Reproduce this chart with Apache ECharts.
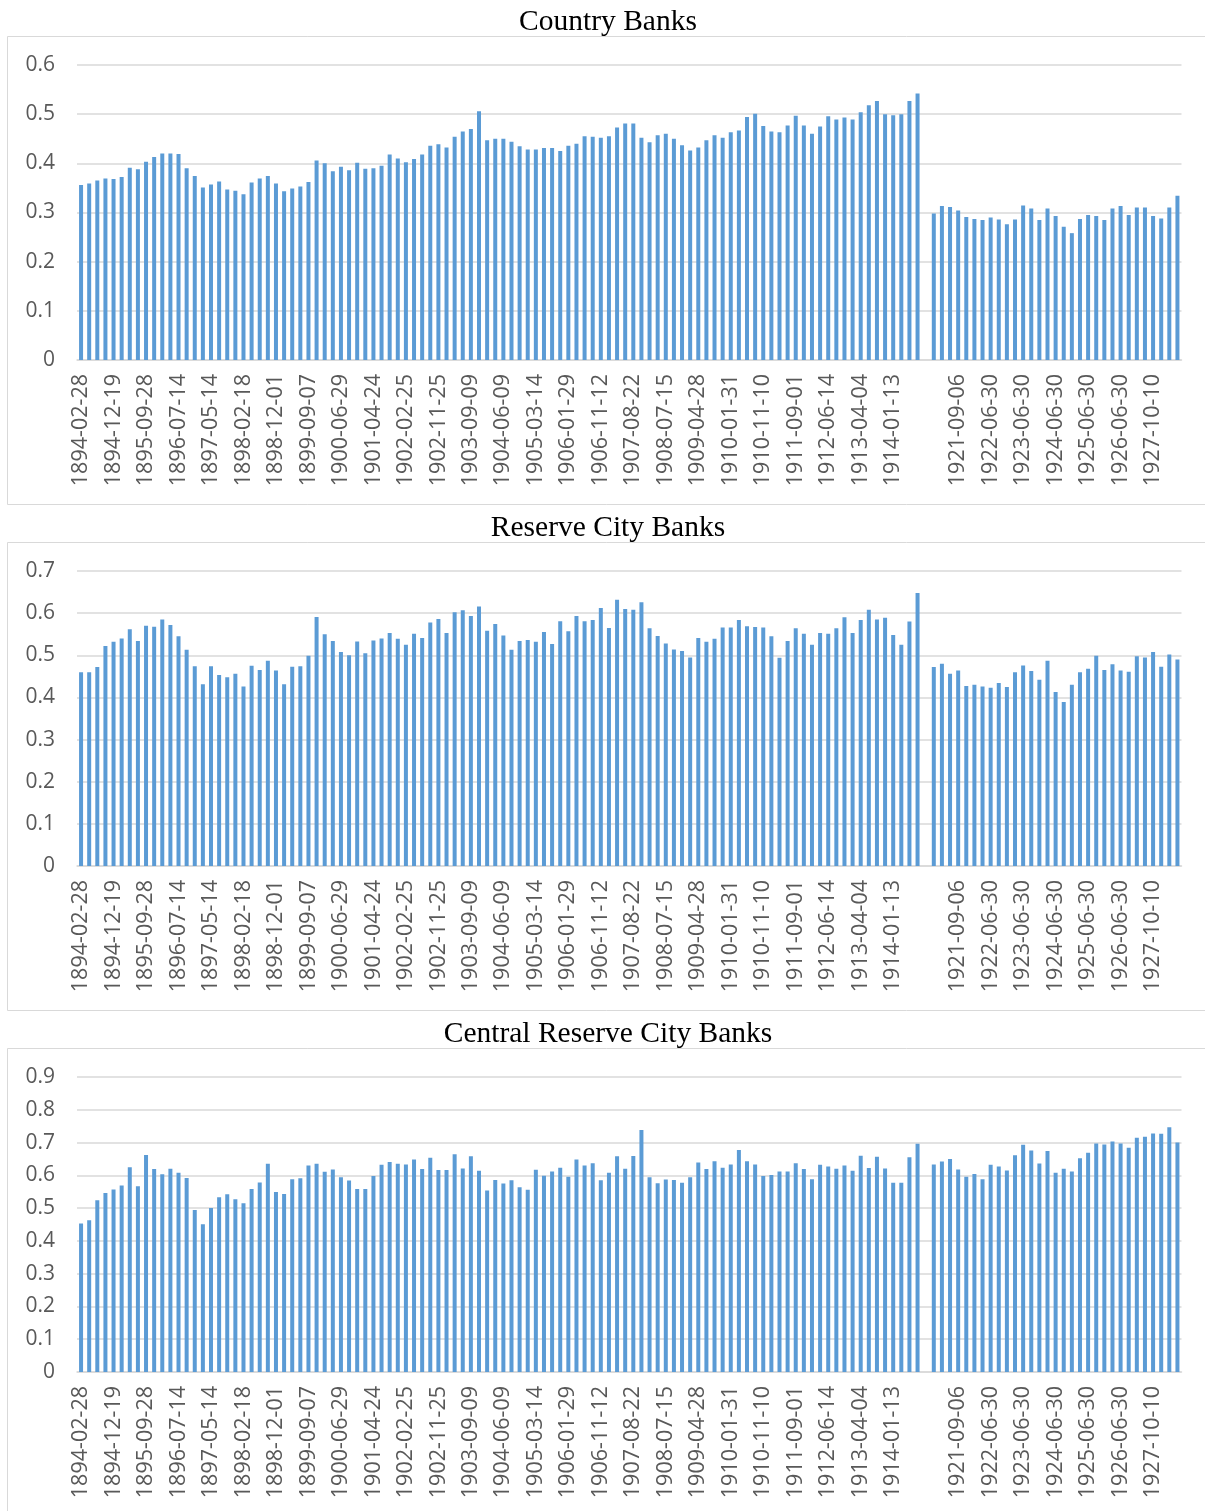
<!DOCTYPE html>
<html>
<head>
<meta charset="utf-8">
<script src="https://cdn.jsdelivr.net/npm/echarts@6/dist/echarts.min.js"></script>
<style>
html,body{margin:0;padding:0;background:#fff;}
#chart{width:1205px;height:1511px;}
</style>
</head>
<body>
<div id="chart"></div>
<script>
const dates = [
"1894-02-28","1894-05-04","1894-07-18","1894-10-02","1894-12-19",
"1895-03-05","1895-05-07","1895-07-11","1895-09-28","1895-12-13",
"1896-02-28","1896-05-07","1896-07-14","1896-10-06","1896-12-17",
"1897-03-09","1897-05-14","1897-07-23","1897-10-05","1897-12-15",
"1898-02-18","1898-05-05","1898-07-14","1898-09-20","1898-12-01",
"1899-02-04","1899-04-05","1899-06-30","1899-09-07","1899-12-02",
"1900-02-13","1900-04-26","1900-06-29","1900-09-05","1900-12-13",
"1901-02-05","1901-04-24","1901-07-15","1901-09-30","1901-12-10",
"1902-02-25","1902-04-30","1902-07-16","1902-09-15","1902-11-25",
"1903-02-06","1903-04-09","1903-06-09","1903-09-09","1903-11-17",
"1904-01-22","1904-03-28","1904-06-09","1904-09-06","1904-11-10",
"1905-01-11","1905-03-14","1905-05-29","1905-08-25","1905-11-09",
"1906-01-29","1906-04-06","1906-06-18","1906-09-04","1906-11-12",
"1907-01-26","1907-03-22","1907-05-20","1907-08-22","1907-12-03",
"1908-02-14","1908-05-14","1908-07-15","1908-09-23","1908-11-27",
"1909-02-05","1909-04-28","1909-06-23","1909-09-01","1909-11-16",
"1910-01-31","1910-03-29","1910-06-30","1910-09-01","1910-11-10",
"1911-01-07","1911-03-07","1911-06-07","1911-09-01","1911-12-05",
"1912-02-20","1912-04-18","1912-06-14","1912-09-04","1912-11-26",
"1913-02-04","1913-04-04","1913-06-04","1913-08-09","1913-10-21",
"1914-01-13","1914-03-04","1914-06-30","1914-10-31","",
"1921-02-21","1921-04-28","1921-06-30","1921-09-06","1921-12-31",
"1922-03-10","1922-05-05","1922-06-30","1922-09-15","1922-12-29",
"1923-04-03","1923-06-30","1923-09-14","1923-12-31","1924-03-31",
"1924-06-30","1924-10-10","1924-12-31","1925-04-06","1925-06-30",
"1925-09-28","1925-12-31","1926-04-12","1926-06-30","1926-12-31",
"1927-03-23","1927-06-30","1927-10-10","1927-12-31","1928-02-28",
"1928-05-03"
];

const countryBanks = [
0.356,0.359,0.365,0.369,0.368,0.372,0.391,0.388,0.403,0.413,
0.420,0.420,0.419,0.390,0.374,0.351,0.357,0.363,0.347,0.344,
0.337,0.361,0.369,0.374,0.359,0.343,0.349,0.353,0.362,0.406,
0.400,0.384,0.393,0.386,0.401,0.389,0.390,0.395,0.418,0.410,
0.402,0.409,0.418,0.436,0.439,0.432,0.454,0.465,0.470,0.506,
0.447,0.450,0.450,0.444,0.435,0.428,0.428,0.431,0.431,0.425,
0.436,0.440,0.455,0.454,0.452,0.455,0.473,0.481,0.481,0.452,
0.443,0.457,0.460,0.450,0.437,0.426,0.432,0.447,0.457,0.452,
0.463,0.467,0.494,0.501,0.476,0.465,0.463,0.477,0.497,0.477,
0.460,0.475,0.496,0.489,0.493,0.489,0.504,0.518,0.527,0.500,
0.498,0.500,0.527,0.542,null,0.298,0.313,0.311,0.304,0.291,
0.287,0.285,0.290,0.286,0.276,0.286,0.314,0.308,0.285,0.308,
0.293,0.271,0.258,0.287,0.295,0.293,0.285,0.308,0.313,0.295,
0.310,0.310,0.293,0.288,0.310,0.334
];

const reserveCityBanks = [
0.460,0.460,0.472,0.522,0.532,0.540,0.562,0.534,0.570,0.568,
0.585,0.572,0.545,0.513,0.474,0.431,0.474,0.453,0.448,0.456,
0.426,0.475,0.465,0.487,0.464,0.431,0.473,0.474,0.499,0.591,
0.550,0.534,0.508,0.500,0.533,0.505,0.535,0.540,0.553,0.539,
0.525,0.551,0.541,0.578,0.586,0.553,0.602,0.607,0.593,0.616,
0.558,0.574,0.547,0.513,0.534,0.536,0.532,0.555,0.527,0.581,
0.557,0.593,0.581,0.584,0.612,0.565,0.632,0.610,0.608,0.626,
0.564,0.546,0.528,0.514,0.510,0.495,0.541,0.532,0.539,0.566,
0.566,0.584,0.569,0.567,0.566,0.545,0.494,0.534,0.564,0.551,
0.525,0.553,0.551,0.564,0.590,0.553,0.584,0.608,0.585,0.589,
0.548,0.525,0.580,0.648,null,0.472,0.480,0.456,0.464,0.427,
0.430,0.426,0.423,0.434,0.425,0.460,0.476,0.463,0.442,0.487,
0.413,0.389,0.430,0.460,0.468,0.499,0.465,0.479,0.464,0.461,
0.498,0.495,0.508,0.473,0.502,0.490
];

const centralReserveCityBanks = [
0.453,0.463,0.524,0.546,0.557,0.569,0.625,0.567,0.662,0.619,
0.603,0.620,0.608,0.592,0.494,0.451,0.500,0.533,0.542,0.527,
0.515,0.558,0.578,0.635,0.549,0.543,0.588,0.591,0.630,0.635,
0.611,0.618,0.594,0.584,0.558,0.558,0.598,0.632,0.641,0.635,
0.633,0.648,0.619,0.654,0.616,0.616,0.664,0.621,0.658,0.614,
0.554,0.586,0.575,0.585,0.564,0.556,0.617,0.599,0.612,0.623,
0.596,0.648,0.630,0.637,0.585,0.608,0.658,0.620,0.659,0.738,
0.594,0.576,0.587,0.586,0.577,0.594,0.639,0.619,0.643,0.623,
0.633,0.677,0.643,0.633,0.598,0.601,0.612,0.612,0.637,0.619,
0.588,0.632,0.627,0.620,0.630,0.614,0.660,0.622,0.657,0.621,
0.577,0.577,0.655,0.696,null,0.633,0.642,0.650,0.618,0.596,
0.604,0.588,0.632,0.627,0.615,0.661,0.693,0.676,0.636,0.674,
0.608,0.620,0.612,0.652,0.669,0.697,0.694,0.703,0.697,0.684,
0.715,0.718,0.728,0.727,0.747,0.700
];

const panelTitles = ["Country Banks", "Reserve City Banks", "Central Reserve City Banks"];
const panelSeries = [countryBanks, reserveCityBanks, centralReserveCityBanks];
const panelMax = [0.6, 0.7, 0.9];

const LABEL_FONT = "'Open Sans', 'Liberation Sans', sans-serif";
const PANEL_STEP = 506;

const chart = echarts.init(document.getElementById('chart'), null, {renderer: 'canvas'});

const grids = [], xAxes = [], yAxes = [], series = [], titles = [], graphics = [];
for (let i = 0; i < 3; i++) {
  const off = i * PANEL_STEP;
  grids.push({left: 77, top: 65 + off, width: 1104.5, height: 295});
  titles.push({
    text: panelTitles[i],
    left: 603, top: 1 + off, textAlign: 'center',
    textStyle: {fontFamily: "'Liberation Serif', 'Times New Roman', serif", fontWeight: 'normal', fontSize: 29.5, color: '#000', lineHeight: 32}
  });
  xAxes.push({
    type: 'category', gridIndex: i, data: dates,
    axisLine: {lineStyle: {color: '#d9d9d9', width: 1.5}},
    axisTick: {show: false},
    axisLabel: {interval: 3, rotate: 90, margin: 14, fontSize: 21.5, color: '#595959', fontFamily: LABEL_FONT}
  });
  yAxes.push({
    type: 'value', gridIndex: i, min: 0, max: panelMax[i], interval: 0.1,
    axisLine: {show: false}, axisTick: {show: false},
    splitLine: {lineStyle: {color: '#d9d9d9', width: 1.5}},
    axisLabel: {margin: 22, fontSize: 21, color: '#595959', fontFamily: LABEL_FONT,
      formatter: v => String(Math.round(v * 10) / 10)}
  });
  series.push({
    type: 'bar', xAxisIndex: i, yAxisIndex: i, data: panelSeries[i],
    barWidth: 4, itemStyle: {color: '#5B9BD5'}, silent: true, animation: false
  });
  graphics.push({
    type: 'rect', silent: true,
    shape: {x: 7.5, y: 36.5 + off, width: 1210, height: 468},
    style: {fill: 'none', stroke: '#d9d9d9', lineWidth: 1}
  });
}

chart.setOption({
  animation: false,
  backgroundColor: '#fff',
  title: titles,
  grid: grids,
  xAxis: xAxes,
  yAxis: yAxes,
  series: series,
  graphic: graphics
});
</script>
</body>
</html>
